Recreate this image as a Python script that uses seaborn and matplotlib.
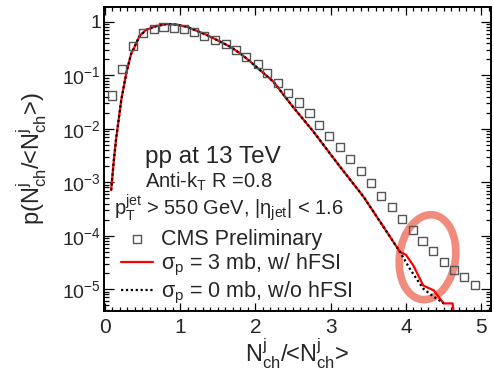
import numpy as np
import pandas as pd
import matplotlib
matplotlib.use('Agg')
import matplotlib.pyplot as plt
import seaborn as sns
from matplotlib.patches import Ellipse
from matplotlib.ticker import LogLocator, FuncFormatter, MultipleLocator, NullFormatter

# CMS Preliminary data (open squares)
cms_x = [0.10, 0.235, 0.37, 0.51, 0.65, 0.78, 0.92, 1.05, 1.18, 1.32, 1.46, 1.61,
         1.74, 1.88, 2.03, 2.16, 2.30, 2.43, 2.58, 2.72, 2.85, 2.98, 3.12, 3.26,
         3.40, 3.54, 3.67, 3.82, 3.95, 4.09, 4.22, 4.36, 4.50, 4.64, 4.77, 4.92]
cms_y = [0.042, 0.132, 0.36, 0.61, 0.74, 0.80, 0.78, 0.73, 0.64, 0.55, 0.46, 0.38,
         0.30, 0.224, 0.162, 0.110, 0.073, 0.047, 0.031, 0.0195, 0.0118, 0.0073, 0.0045, 0.0027,
         0.00162, 0.00098, 0.00056, 0.00035, 0.000204, 0.000127, 7.8e-5, 5.1e-5, 3.16e-5, 2.27e-5, 1.7e-5, 1.19e-5]

# sigma_p = 3 mb, with hFSI (red solid)
hfsi_x = [0.085, 0.12, 0.15, 0.22, 0.29, 0.35, 0.40, 0.46, 0.55, 0.69, 0.82, 0.95,
          1.09, 1.35, 1.66, 1.80, 1.93, 2.24, 2.50, 2.77, 2.99, 3.125, 3.435, 3.70,
          3.92, 4.00, 4.10, 4.23, 4.30, 4.37, 4.50, 4.62, 4.66]
hfsi_y = [7.1e-4, 2.5e-3, 6.3e-3, 0.035, 0.117, 0.25, 0.35, 0.54, 0.71, 0.84, 0.91, 0.89,
          0.81, 0.575, 0.347, 0.257, 0.182, 0.076, 0.0257, 0.0089, 0.00347, 0.00195, 5.4e-4, 1.48e-4,
          5.0e-5, 4.4e-5, 2.75e-5, 1.17e-5, 1.05e-5, 9.5e-6, 5.4e-6, 5.4e-6, 2.0e-6]

# sigma_p = 0 mb, without hFSI (black dotted)
nofsi_x = [0.085, 0.12, 0.15, 0.22, 0.29, 0.35, 0.40, 0.46, 0.55, 0.69, 0.82, 0.95,
           1.09, 1.35, 1.66, 1.80, 1.93, 2.24, 2.50, 2.77, 2.99, 3.125, 3.435, 3.70,
           3.92, 4.06, 4.23, 4.37, 4.50]
nofsi_y = [7.1e-4, 2.5e-3, 6.3e-3, 0.035, 0.117, 0.25, 0.35, 0.54, 0.71, 0.84, 0.91, 0.89,
           0.81, 0.575, 0.347, 0.257, 0.182, 0.076, 0.0257, 0.0089, 0.00347, 0.00195, 5.4e-4, 1.48e-4,
           5.0e-5, 2.3e-5, 1.02e-5, 7.2e-6, 5.5e-6]

labels = ['CMS Preliminary', 'σ$_\\mathrm{p}$ = 3 mb, w/ hFSI', 'σ$_\\mathrm{p}$ = 0 mb, w/o hFSI']

sns.set_style('ticks')
plt.rcParams['font.family'] = ['Liberation Sans', 'DejaVu Sans']
plt.rcParams['mathtext.fontset'] = 'custom'
plt.rcParams['mathtext.rm'] = 'Liberation Sans'
plt.rcParams['mathtext.it'] = 'Liberation Sans'
plt.rcParams['mathtext.sf'] = 'Liberation Sans'
plt.rcParams['mathtext.bf'] = 'Liberation Sans:bold'

fig = plt.figure(figsize=(4.94, 3.70), dpi=100)
ax = fig.add_axes([0.2105, 0.1595, 0.7834, 0.8216])

# highlight ellipse
ell = Ellipse((0.836, 0.177), 0.145, 0.280, angle=-5, transform=ax.transAxes,
              facecolor='none', edgecolor='#F08C7E', lw=5.5, zorder=1)
ax.add_patch(ell)

sns.lineplot(x=hfsi_x, y=hfsi_y, ax=ax, color='#FF0000', lw=1.6, sort=False,
             estimator=None, zorder=2, label=labels[1])
sns.lineplot(x=nofsi_x, y=nofsi_y, ax=ax, color='black', lw=1.6, sort=False,
             estimator=None, zorder=3, linestyle=(0, (1, 1.2)), label=labels[2])
sns.scatterplot(x=cms_x, y=cms_y, ax=ax, marker='s', s=34, facecolors='none',
                edgecolor='#555555', linewidth=1.0, zorder=4, label=labels[0])

ax.set_yscale('log')
ax.set_xlim(-0.01, 5.13)
ax.set_ylim(3.9e-6, 1.9)

ax.xaxis.set_major_locator(MultipleLocator(1))
ax.xaxis.set_minor_locator(MultipleLocator(0.1))
ax.yaxis.set_major_locator(LogLocator(base=10, numticks=20))
ax.yaxis.set_minor_locator(LogLocator(base=10, subs=np.arange(2, 10), numticks=20))
ax.yaxis.set_minor_formatter(NullFormatter())

def yfmt(v, pos):
    e = int(round(np.log10(v)))
    return '1' if e == 0 else '$10^{%d}$' % e
ax.yaxis.set_major_formatter(FuncFormatter(yfmt))

ax.tick_params(which='both', direction='in', top=True, right=True, width=0.9, color='black')
ax.tick_params(axis='x', which='major', length=5.8, labelsize=15, pad=5)
ax.tick_params(axis='x', which='minor', length=2.9)
ax.tick_params(axis='y', which='major', length=7, labelsize=14, pad=2)
ax.tick_params(axis='y', which='minor', length=3.6)
for s in ax.spines.values():
    s.set_linewidth(1.4)
    s.set_color('black')

ax.set_xlabel('N$^\\mathrm{j}_\\mathrm{ch}$/<N$^\\mathrm{j}_\\mathrm{ch}$>', fontsize=17, va='center')
ax.set_ylabel('p(N$^\\mathrm{j}_\\mathrm{ch}$/<N$^\\mathrm{j}_\\mathrm{ch}$>)', fontsize=17, va='center')
ax.xaxis.set_label_coords(0.5, -0.14)
ax.yaxis.set_label_coords(-0.186, 0.5)

ax.text(0.106, 0.487, 'pp at 13 TeV', fontsize=17.5, transform=ax.transAxes, va='baseline')
ax.text(0.106, 0.406, 'Anti-k$_\\mathrm{T}$ R =0.8', fontsize=14.5, transform=ax.transAxes, va='baseline')
ax.text(0.026, 0.316, 'p$_\\mathrm{T}^\\mathrm{jet}$ > 550 GeV, |η$_\\mathrm{jet}$| < 1.6', fontsize=14.5,
        transform=ax.transAxes, va='baseline')

h, l = ax.get_legend_handles_labels()
order = [l.index(t) for t in labels]
ax.legend([h[i] for i in order], [l[i] for i in order], loc='upper left',
          bbox_to_anchor=(0.044, 0.27), frameon=False, fontsize=15.5,
          handlelength=1.5, handletextpad=0.35, labelspacing=0.1,
          borderpad=0, borderaxespad=0, scatterpoints=1)

fig.savefig('out.png', dpi=100)
